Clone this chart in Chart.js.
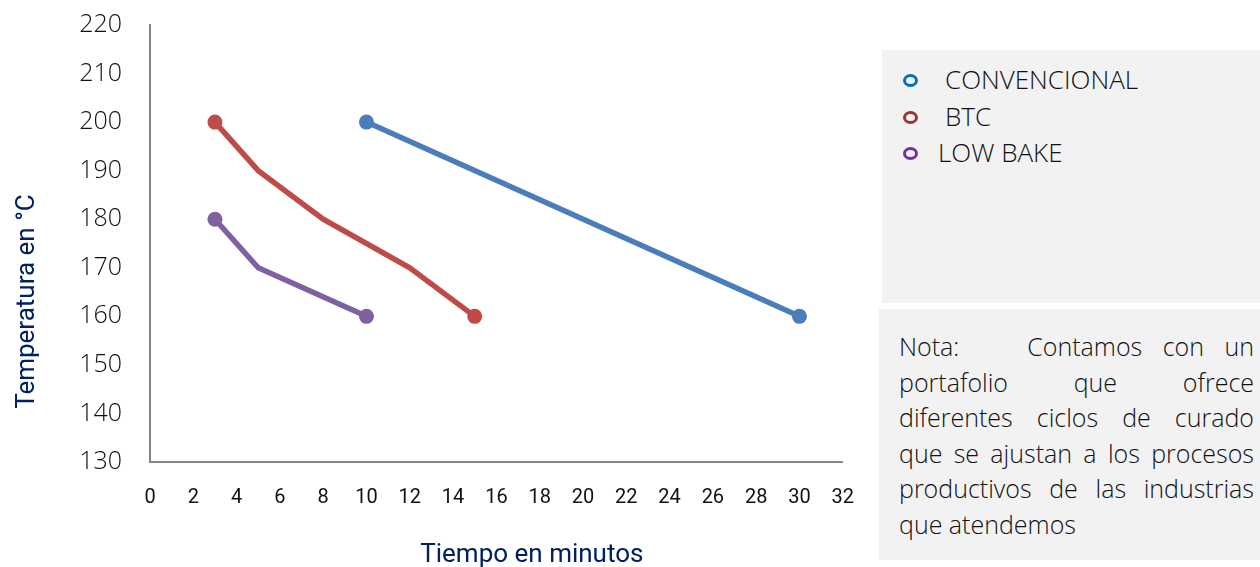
<!DOCTYPE html>
<html>
<head>
<meta charset="utf-8">
<script src="https://cdn.jsdelivr.net/npm/chart.js@4"></script>
<style>
  body { margin: 0; background: #fff; width: 1260px; height: 567px; overflow: hidden; position: relative; }
  #wrap { position: absolute; left: 0; top: -18px; width: 878px; height: 595px; }
  #legendBox { position: absolute; left: 882px; top: 50px; width: 378px; height: 253px; background: #f2f2f2; font-family: "Open Sans", sans-serif; font-size: 26px; font-weight: 300; color: #111; }
  .item { position: absolute; height: 30px; line-height: 30px; }
  .ring { position: absolute; left: 21px; width: 9px; height: 7px; border-radius: 50%; border: 3px solid; top: 10px; }
  #noteBox { position: absolute; left: 879px; top: 309px; width: 381px; height: 251px; background: #f2f2f2; box-sizing: border-box; padding: 20px 6px 0 20px; font-family: "Open Sans", sans-serif; font-size: 25px; font-weight: 300; line-height: 35.6px; color: #111; }
  #noteBox .ln { display: block; white-space: nowrap; text-align: justify; text-align-last: justify; }
  #noteBox .ln.first { display: flex; justify-content: space-between; }
  #noteBox .ln.first span + span { word-spacing: 14px; }
  #noteBox .ln.last { text-align-last: left; }
</style>
</head>
<body>
<div id="wrap"><canvas id="myChart" width="878" height="595"></canvas></div>
<div id="legendBox"></div>
<div id="noteBox"></div>
<script>
// series data (minutes, °C)
const seriesNames = ['CONVENCIONAL', 'BTC', 'LOW BAKE'];
const convencionalX = [10, 30];
const convencionalY = [200, 160];
const btcX = [3, 5, 8, 12, 15];
const btcY = [200, 190, 180, 170, 160];
const lowBakeX = [3, 5, 10];
const lowBakeY = [180, 170, 160];
const xTicks = [0, 2, 4, 6, 8, 10, 12, 14, 16, 18, 20, 22, 24, 26, 28, 30, 32];
const yTicks = [130, 140, 150, 160, 170, 180, 190, 200, 210, 220];
const noteLines = ['Nota:|Contamos con un', 'portafolio que ofrece', 'diferentes ciclos de curado',
    'que se ajustan a los procesos', 'productivos de las industrias', 'que atendemos'];

const lineColors = ['#4a7ebb', '#be4b48', '#7f60a1'];
const legendColors = ['#0070c0', '#953735', '#7030a0'];

function toPoints(xs, ys) {
    return xs.map(function(x, i) { return {x: x, y: ys[i]}; });
}

// markers only on the first and last point of each line
function endRadius(xs) {
    return xs.map(function(x, i) { return (i === 0 || i === xs.length - 1) ? 7.5 : 0; });
}

function buildLegend() {
    const box = document.getElementById('legendBox');
    const tops = [14, 51, 87];
    const lefts = [63, 63, 56];
    seriesNames.forEach(function(name, i) {
        const item = document.createElement('div');
        item.className = 'item';
        item.style.top = tops[i] + 'px';
        item.style.left = '0px';
        item.innerHTML = '<span class="ring" style="border-color:' + legendColors[i] + '"></span>' +
            '<span style="position:absolute;left:' + lefts[i] + 'px;white-space:nowrap">' + name + '</span>';
        box.appendChild(item);
    });
}

function buildNote() {
    const box = document.getElementById('noteBox');
    noteLines.forEach(function(line, i) {
        const s = document.createElement('span');
        s.className = 'ln';
        if (line.indexOf('|') >= 0) {
            // "Nota:" is set apart by a wide gap, the rest keeps normal spacing
            s.className += ' first';
            line.split('|').forEach(function(part) {
                const p = document.createElement('span');
                p.textContent = part;
                s.appendChild(p);
            });
        } else {
            s.textContent = line;
        }
        if (i === noteLines.length - 1) s.className += ' last';
        box.appendChild(s);
    });
}

// the axis titles sit off-centre in the original, padding them with spaces shifts them
function pad(n) {
    return '\u00a0'.repeat(n);
}

function chart() {
    const ctx = document.getElementById('myChart');
    const sets = [
        toPoints(convencionalX, convencionalY),
        toPoints(btcX, btcY),
        toPoints(lowBakeX, lowBakeY)
    ];
    const radii = [endRadius(convencionalX), endRadius(btcX), endRadius(lowBakeX)];
    new Chart(ctx, {
        type: 'scatter',
        data: {
            datasets: sets.map(function(pts, i) {
                return {
                    label: seriesNames[i],
                    data: pts,
                    showLine: true,
                    borderColor: lineColors[i],
                    backgroundColor: lineColors[i],
                    borderWidth: 5.5,
                    pointRadius: radii[i],
                    pointHoverRadius: radii[i],
                    pointBorderWidth: 0,
                    tension: 0
                };
            })
        },
        options: {
            responsive: false,
            animation: false,
            layout: { padding: { top: 4, right: 21, left: 0, bottom: 0 } },
            plugins: { legend: { display: false }, tooltip: { enabled: false } },
            scales: {
                x: {
                    type: 'linear',
                    min: 0, max: 32,
                    afterBuildTicks: function(axis) { axis.ticks = xTicks.map(function(v) { return {value: v}; }); },
                    grid: { display: false, drawTicks: false },
                    border: { color: '#868686', width: 2 },
                    ticks: { color: '#111', font: { family: 'Roboto', size: 20 }, padding: 24, maxRotation: 0 },
                    title: { display: true, text: pad(11) + 'Tiempo en minutos', color: '#002060', font: { family: 'Roboto', size: 26 }, padding: { top: 20, bottom: 6 } },
                    afterFit: function(axis) { axis.height = 115; }
                },
                y: {
                    type: 'linear',
                    min: 130, max: 220,
                    afterBuildTicks: function(axis) { axis.ticks = yTicks.map(function(v) { return {value: v}; }); },
                    grid: { display: false, drawTicks: false },
                    border: { color: '#868686', width: 2 },
                    ticks: { color: '#111', font: { family: 'Open Sans', size: 25, weight: 300 }, padding: 28 },
                    title: { display: true, text: 'Temperatura en °C' + pad(18), color: '#002060', font: { family: 'Roboto', size: 26 }, padding: { top: 12, bottom: 0 } },
                    afterFit: function(axis) { axis.width = 150; }
                }
            }
        }
    });
}

buildLegend();
buildNote();
chart();
</script>
</body>
</html>
